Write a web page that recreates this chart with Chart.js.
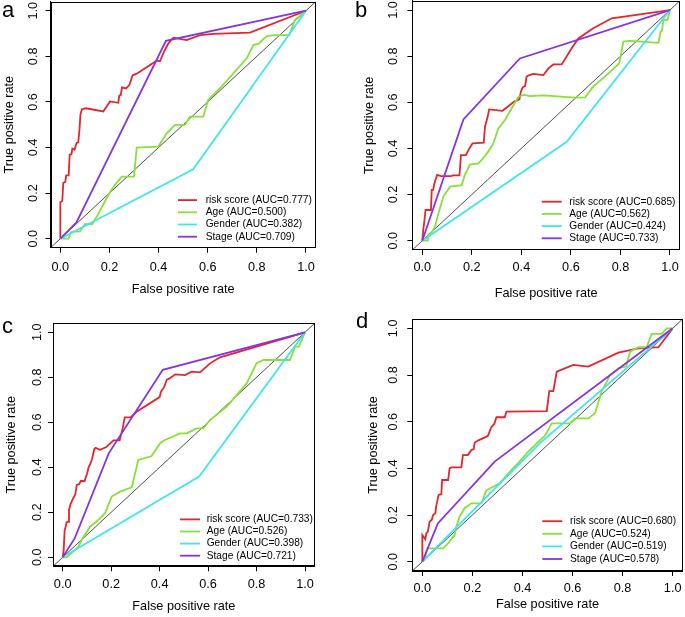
<!DOCTYPE html>
<html>
<head>
<meta charset="utf-8">
<script src="https://cdn.jsdelivr.net/npm/chart.js@4.4.0/dist/chart.umd.min.js"></script>
<style>
  body { margin: 0; background: #fff; }
  #wrap { position: relative; width: 685px; height: 617px; overflow: hidden; background: #fff; }
  canvas { position: absolute; }
  .tag { position: absolute; font: 22px "Liberation Sans", Arial, sans-serif; line-height: 22px; color: #000; }
</style>
</head>
<body>
<div id="wrap">
  <canvas id="pa" width="340" height="308" style="left:0;top:0"></canvas>
  <canvas id="pb" width="345" height="308" style="left:340px;top:0"></canvas>
  <canvas id="pc" width="340" height="309" style="left:0;top:308px"></canvas>
  <canvas id="pd" width="345" height="309" style="left:340px;top:308px"></canvas>
  <div class="tag" style="left:2px;top:-1px">a</div>
  <div class="tag" style="left:355px;top:-1px">b</div>
  <div class="tag" style="left:2px;top:315px">c</div>
  <div class="tag" style="left:356px;top:310px">d</div>
</div>
<script>
// axis ticks and series names
const tickVals = [0, 0.2, 0.4, 0.6, 0.8, 1.0];
const seriesNames = ['risk score', 'Age', 'Gender', 'Stage'];
const seriesColors = ['#e3262b', '#86e13a', '#3fe5ef', '#8633e3'];

// AUC values per panel (risk score, Age, Gender, Stage)
const aucA = [0.777, 0.500, 0.382, 0.709];
const aucB = [0.685, 0.562, 0.424, 0.733];
const aucC = [0.733, 0.526, 0.398, 0.721];
const aucD = [0.680, 0.524, 0.519, 0.578];

// ROC points [FPR, TPR]
const aRisk = [[0,0],[0,0.16],[0.008,0.165],[0.012,0.245],[0.02,0.248],[0.024,0.278],[0.034,0.278],[0.038,0.368],[0.045,0.37],[0.049,0.395],[0.058,0.39],[0.066,0.42],[0.073,0.422],[0.078,0.48],[0.082,0.545],[0.088,0.568],[0.105,0.572],[0.175,0.558],[0.202,0.602],[0.236,0.596],[0.24,0.628],[0.246,0.63],[0.251,0.664],[0.267,0.659],[0.281,0.674],[0.294,0.716],[0.311,0.724],[0.392,0.781],[0.406,0.779],[0.422,0.82],[0.44,0.857],[0.46,0.882],[0.514,0.871],[0.569,0.893],[0.623,0.898],[0.772,0.904],[1,1]];
const aAge = [[0,0],[0.033,0],[0.045,0.03],[0.08,0.032],[0.1,0.064],[0.13,0.064],[0.15,0.1],[0.175,0.15],[0.2,0.2],[0.222,0.235],[0.25,0.272],[0.3,0.272],[0.311,0.4],[0.399,0.404],[0.433,0.462],[0.467,0.499],[0.507,0.499],[0.528,0.535],[0.582,0.535],[0.602,0.608],[0.65,0.66],[0.704,0.725],[0.758,0.79],[0.786,0.849],[0.806,0.854],[0.84,0.889],[0.874,0.893],[0.932,0.893],[0.955,0.959],[1,1]];
const aGender = [[0,0],[0.541,0.304],[1,1]];
const aStage = [[0,0],[0.066,0.072],[0.43,0.868],[1,1]];

const bRisk = [[0,0],[0.004,0.05],[0.008,0.08],[0.013,0.133],[0.035,0.133],[0.038,0.22],[0.044,0.22],[0.048,0.245],[0.052,0.26],[0.06,0.285],[0.075,0.28],[0.116,0.28],[0.125,0.283],[0.15,0.283],[0.156,0.371],[0.176,0.371],[0.19,0.4],[0.203,0.422],[0.248,0.425],[0.253,0.494],[0.264,0.538],[0.27,0.569],[0.324,0.563],[0.371,0.603],[0.392,0.613],[0.398,0.646],[0.405,0.665],[0.415,0.67],[0.421,0.711],[0.432,0.718],[0.448,0.723],[0.489,0.718],[0.509,0.747],[0.529,0.764],[0.563,0.764],[0.603,0.834],[0.63,0.877],[0.69,0.921],[0.765,0.964],[1,1]];
const bAge = [[0,0],[0.022,0],[0.025,0.028],[0.038,0.035],[0.051,0.061],[0.065,0.118],[0.085,0.191],[0.112,0.234],[0.159,0.241],[0.172,0.285],[0.192,0.33],[0.226,0.335],[0.24,0.35],[0.266,0.386],[0.287,0.422],[0.307,0.487],[0.334,0.523],[0.361,0.574],[0.388,0.624],[0.41,0.632],[0.435,0.627],[0.489,0.63],[0.616,0.62],[0.657,0.621],[0.69,0.668],[0.744,0.718],[0.795,0.769],[0.812,0.863],[0.838,0.866],[0.953,0.858],[0.962,0.906],[0.968,0.91],[0.973,0.957],[0.99,0.957],[1,1]];
const bGender = [[0,0],[0.583,0.429],[1,1]];
const bStage = [[0,0],[0.166,0.526],[0.394,0.79],[1,1]];

const cRisk = [[0,0],[0.004,0.03],[0.008,0.12],[0.012,0.135],[0.016,0.155],[0.022,0.158],[0.026,0.21],[0.032,0.235],[0.04,0.255],[0.047,0.27],[0.052,0.28],[0.058,0.322],[0.068,0.325],[0.075,0.34],[0.09,0.338],[0.1,0.37],[0.107,0.4],[0.115,0.418],[0.122,0.44],[0.13,0.48],[0.136,0.487],[0.154,0.478],[0.18,0.49],[0.195,0.505],[0.21,0.52],[0.235,0.52],[0.248,0.575],[0.256,0.622],[0.28,0.622],[0.305,0.647],[0.4,0.712],[0.405,0.735],[0.418,0.755],[0.43,0.79],[0.443,0.796],[0.464,0.813],[0.505,0.81],[0.532,0.825],[0.567,0.822],[0.608,0.862],[0.649,0.889],[1,1]];
const cAge = [[0,0],[0.017,0],[0.065,0.047],[0.078,0.077],[0.113,0.136],[0.14,0.159],[0.175,0.196],[0.202,0.27],[0.237,0.292],[0.285,0.311],[0.312,0.433],[0.367,0.45],[0.402,0.507],[0.42,0.52],[0.484,0.551],[0.512,0.551],[0.553,0.573],[0.58,0.573],[0.608,0.61],[0.677,0.67],[0.759,0.773],[0.8,0.862],[0.828,0.877],[0.938,0.877],[0.959,0.936],[0.975,0.936],[1,1]];
const cGender = [[0,0],[0.563,0.359],[1,1]];
const cStage = [[0,0],[0.05,0.085],[0.19,0.462],[0.413,0.833],[1,1]];

const dRisk = [[0,0],[0,0.114],[0.012,0.096],[0.016,0.121],[0.022,0.129],[0.029,0.171],[0.038,0.18],[0.043,0.2],[0.052,0.207],[0.055,0.236],[0.065,0.286],[0.076,0.29],[0.079,0.35],[0.103,0.35],[0.109,0.4],[0.116,0.404],[0.156,0.404],[0.162,0.457],[0.182,0.457],[0.196,0.479],[0.205,0.482],[0.209,0.51],[0.222,0.519],[0.256,0.536],[0.262,0.539],[0.275,0.575],[0.288,0.592],[0.296,0.619],[0.329,0.619],[0.336,0.643],[0.497,0.645],[0.507,0.731],[0.523,0.731],[0.537,0.814],[0.603,0.843],[0.663,0.836],[0.783,0.896],[0.863,0.914],[0.943,0.919],[1,1]];
const dAge = [[0,0],[0.009,0.007],[0.02,0.057],[0.05,0.057],[0.083,0.057],[0.103,0.079],[0.129,0.114],[0.136,0.15],[0.149,0.193],[0.169,0.229],[0.196,0.25],[0.236,0.25],[0.249,0.286],[0.256,0.307],[0.289,0.324],[0.309,0.336],[0.356,0.393],[0.382,0.421],[0.422,0.471],[0.46,0.51],[0.49,0.54],[0.517,0.593],[0.59,0.593],[0.61,0.614],[0.663,0.614],[0.69,0.636],[0.716,0.729],[0.75,0.8],[0.783,0.829],[0.814,0.836],[0.83,0.9],[0.863,0.919],[0.896,0.919],[0.916,0.976],[0.956,0.976],[0.976,1],[1,1]];
const dGender = [[0,0],[0.47,0.508],[1,1]];
const dStage = [[0,0],[0.062,0.164],[0.289,0.429],[1,1]];

const FAMILY = '"Liberation Sans", Arial, sans-serif';
const axisFont = { family: FAMILY, size: 12.7 };

// draws the R style box and the bottomright legend
const rocFrame = {
  id: 'rocFrame',
  afterDraw(chart, args, opts) {
    const { ctx, chartArea: a } = chart;
    ctx.save();
    ctx.strokeStyle = '#000';
    ctx.lineWidth = 1;
    const l = Math.round(a.left) + 0.5, t = Math.round(a.top) + 0.5;
    const r = Math.round(a.right) - 0.5, b = Math.round(a.bottom) - 0.5;
    ctx.strokeRect(l, t, r - l, b - t);

    const items = chart.data.datasets.filter(d => d.inLegend !== false);
    ctx.font = '10.2px ' + FAMILY;
    ctx.textBaseline = 'middle';
    ctx.textAlign = 'left';
    items.forEach((d, i) => {
      const y = a.bottom - opts.lastRow - (items.length - 1 - i) * opts.rowGap;
      ctx.strokeStyle = d.borderColor;
      ctx.lineWidth = d.borderWidth;
      ctx.beginPath();
      ctx.moveTo(a.right - opts.lineStart, y);
      ctx.lineTo(a.right - opts.lineStart + opts.lineLen, y);
      ctx.stroke();
      ctx.fillStyle = '#000';
      ctx.fillText(d.label, a.right - opts.textStart, y);
    });
    ctx.restore();
  }
};

function makePanel(id, g, series, auc) {
  const cv = document.getElementById(id);
  const w = cv.width, h = cv.height;
  const datasets = series.map((pts, i) => ({
    label: seriesNames[i] + ' (AUC=' + auc[i].toFixed(3) + ')',
    data: pts.map(p => ({ x: p[0], y: p[1] })),
    showLine: true,
    borderColor: seriesColors[i],
    backgroundColor: seriesColors[i],
    borderWidth: 1.8,
    pointRadius: 0,
    order: 4 - i
  }));
  // abline(0, 1)
  datasets.push({
    label: 'diagonal',
    inLegend: false,
    data: [{ x: -0.04, y: -0.04 }, { x: 1.04, y: 1.04 }],
    showLine: true,
    borderColor: '#3a3a3a',
    borderWidth: 0.9,
    pointRadius: 0,
    order: 10
  });

  const tickSet = s => { s.ticks = tickVals.map(v => ({ value: v })); };
  const gridOpts = { drawOnChartArea: false, drawTicks: true, tickLength: 5, color: '#000', lineWidth: 1 };

  new Chart(cv, {
    type: 'scatter',
    data: { datasets },
    options: {
      responsive: false,
      animation: false,
      devicePixelRatio: 1,
      layout: { padding: { left: 0, top: g.box[1], right: w - g.box[2], bottom: 0 } },
      scales: {
        x: {
          type: 'linear', min: -0.04, max: 1.04,
          afterBuildTicks: tickSet,
          afterFit: s => { s.height = h - g.box[3]; s.paddingLeft = 0; s.paddingRight = 0; },
          ticks: { callback: v => v.toFixed(1), color: '#000', font: axisFont, padding: g.xTickPad, maxRotation: 0, autoSkip: false },
          grid: gridOpts,
          border: { display: true, color: '#000', width: 1 },
          title: { display: true, text: 'False positive rate', color: '#000', font: axisFont, padding: { top: 0, bottom: g.xTitlePad } }
        },
        y: {
          type: 'linear', min: -0.04, max: 1.04,
          afterBuildTicks: tickSet,
          afterFit: s => { s.width = g.box[0]; s.paddingTop = 0; s.paddingBottom = 0; },
          ticks: { callback: v => v.toFixed(1), color: '#000', font: axisFont, padding: g.yTickPad, minRotation: 90, maxRotation: 90, crossAlign: 'center', autoSkip: false },
          grid: gridOpts,
          border: { display: true, color: '#000', width: 1 },
          title: { display: true, text: 'True positive rate', color: '#000', font: axisFont, padding: { top: g.yTitlePad, bottom: 0 } }
        }
      },
      plugins: {
        legend: { display: false },
        tooltip: { enabled: false },
        rocFrame: g.legend
      }
    },
    plugins: [rocFrame]
  });
}

makePanel('pa', {
  box: [50.5, 1.6, 315.8, 247.8], xTickPad: 6.6, xTitlePad: 10.4, yTickPad: 2.9, yTitlePad: 2.1,
  legend: { lineStart: 137.8, lineLen: 19, textStart: 110.1, lastRow: 11.1, rowGap: 12.2 }
}, [aRisk, aAge, aGender, aStage], aucA);

makePanel('pb', {
  box: [72.4, 0.8, 339.9, 249.9], xTickPad: 5.2, xTitlePad: 7.1, yTickPad: 4.8, yTitlePad: 21.7,
  legend: { lineStart: 138.2, lineLen: 20, textStart: 110.6, lastRow: 11.6, rowGap: 12.2 }
}, [bRisk, bAge, bGender, bStage], aucB);

makePanel('pc', {
  box: [53, 15.3, 314.7, 258.3], xTickPad: 6.0, xTitlePad: 2.7, yTickPad: 1.8, yTitlePad: 4.1,
  legend: { lineStart: 134.7, lineLen: 20, textStart: 108, lastRow: 10.6, rowGap: 12.1 }
}, [cRisk, cAge, cGender, cStage], aucC);

makePanel('pd', {
  box: [72.3, 11, 342.7, 263], xTickPad: 4.7, xTitlePad: 4.4, yTickPad: 5.2, yTitlePad: 25.7,
  legend: { lineStart: 140.4, lineLen: 20, textStart: 112.7, lastRow: 12, rowGap: 12.6 }
}, [dRisk, dAge, dGender, dStage], aucD);
</script>
</body>
</html>
